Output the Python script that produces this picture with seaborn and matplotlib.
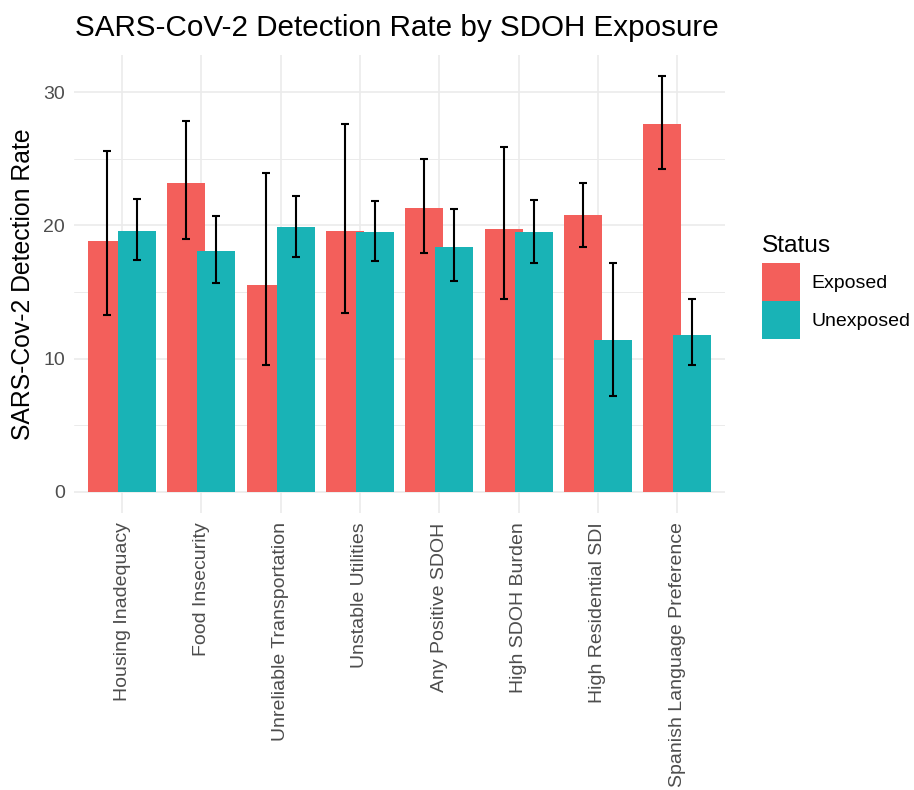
import matplotlib
matplotlib.use("Agg")
import matplotlib.pyplot as plt
import numpy as np
import pandas as pd
import seaborn as sns
from matplotlib.patches import Patch

categories = ["Housing Inadequacy", "Food Insecurity", "Unreliable Transportation",
              "Unstable Utilities", "Any Positive SDOH", "High SDOH Burden",
              "High Residential SDI", "Spanish Language Preference"]
statuses = ["Exposed", "Unexposed"]

exposed_rate = [18.8, 23.2, 15.5, 19.6, 21.3, 19.7, 20.8, 27.6]
exposed_lo = [13.3, 19.0, 9.5, 13.4, 17.9, 14.5, 18.4, 24.2]
exposed_hi = [25.6, 27.8, 23.9, 27.6, 25.0, 25.9, 23.2, 31.2]

unexposed_rate = [19.6, 18.1, 19.9, 19.5, 18.4, 19.5, 11.4, 11.8]
unexposed_lo = [17.4, 15.7, 17.6, 17.3, 15.8, 17.2, 7.2, 9.5]
unexposed_hi = [22.0, 20.7, 22.2, 21.8, 21.2, 21.9, 17.2, 14.5]

colors = ["#F35F5B", "#19B3B6"]

df = pd.DataFrame({
    "sdoh": categories * 2,
    "status": ["Exposed"] * len(categories) + ["Unexposed"] * len(categories),
    "rate": exposed_rate + unexposed_rate,
    "lo": exposed_lo + unexposed_lo,
    "hi": exposed_hi + unexposed_hi,
})

sns.set_theme(style="whitegrid")
plt.rcParams["font.family"] = ["Liberation Sans", "DejaVu Sans"]
plt.rcParams["text.color"] = "black"

fig = plt.figure(figsize=(9.14, 7.9), dpi=100)
ax = fig.add_axes([0.0815, 0.351, 0.7115, 0.579])

sns.barplot(data=df, x="sdoh", y="rate", hue="status", order=categories,
            hue_order=statuses, palette=colors, width=0.76, dodge=True,
            saturation=1, errorbar=None, legend=False, ax=ax)

# bars are wider than the dodge step, so neighbours overlap a little
for cont, st in zip(ax.containers, statuses):
    sub = df[df.status == st].set_index("sdoh").loc[categories]
    xs = []
    for bar in cont:
        cx = bar.get_x() + bar.get_width() / 2
        bar.set_width(0.48)
        bar.set_x(cx - 0.24)
        bar.set_edgecolor("none")
        xs.append(cx)
    xs = np.array(xs)
    y = sub["rate"].values
    ax.errorbar(xs, y, yerr=[y - sub["lo"].values, sub["hi"].values - y],
                fmt="none", ecolor="black", elinewidth=1.5, capsize=3,
                capthick=1.5, zorder=5)

ax.set_xlim(-0.6, 7.6)
ax.set_ylim(-1.56, 32.76)
ax.set_yticks([0, 10, 20, 30])
ax.set_yticks([5, 15, 25], minor=True)
ax.grid(which="major", color="#EBEBEB", lw=1.2)
ax.grid(which="minor", axis="y", color="#EBEBEB", lw=0.7)
ax.set_axisbelow(True)
for s in ax.spines.values():
    s.set_visible(False)

ax.set_xticks(range(len(categories)))
ax.set_xticklabels(categories, rotation=90, ha="center", va="top")
ax.tick_params(axis="both", which="both", length=0, labelsize=14,
               labelcolor="#4D4D4D")
ax.tick_params(axis="x", pad=7)
ax.tick_params(axis="y", pad=7)
ax.set_xlabel("")
ax.set_ylabel("SARS-Cov-2 Detection Rate", fontsize=17.8, color="black", labelpad=6)

fig.text(0.082, 1 - 28 / 790, "SARS-CoV-2 Detection Rate by SDOH Exposure",
         fontsize=21.3, ha="left", va="center", color="black")

fig.text(0.8335, 1 - 252 / 790, "Status", fontsize=17.6, ha="left",
         va="baseline", color="black")
handles = [Patch(facecolor=c, edgecolor="none", label=s) for c, s in zip(colors, statuses)]
fig.legend(handles=handles, loc="upper left", bbox_to_anchor=(0.8335, 1 - 263 / 790),
           frameon=False, fontsize=14, handlelength=1.96, handleheight=2.63,
           labelspacing=0, handletextpad=0.6, borderpad=0, borderaxespad=0)

fig.savefig("out.png", dpi=100)
